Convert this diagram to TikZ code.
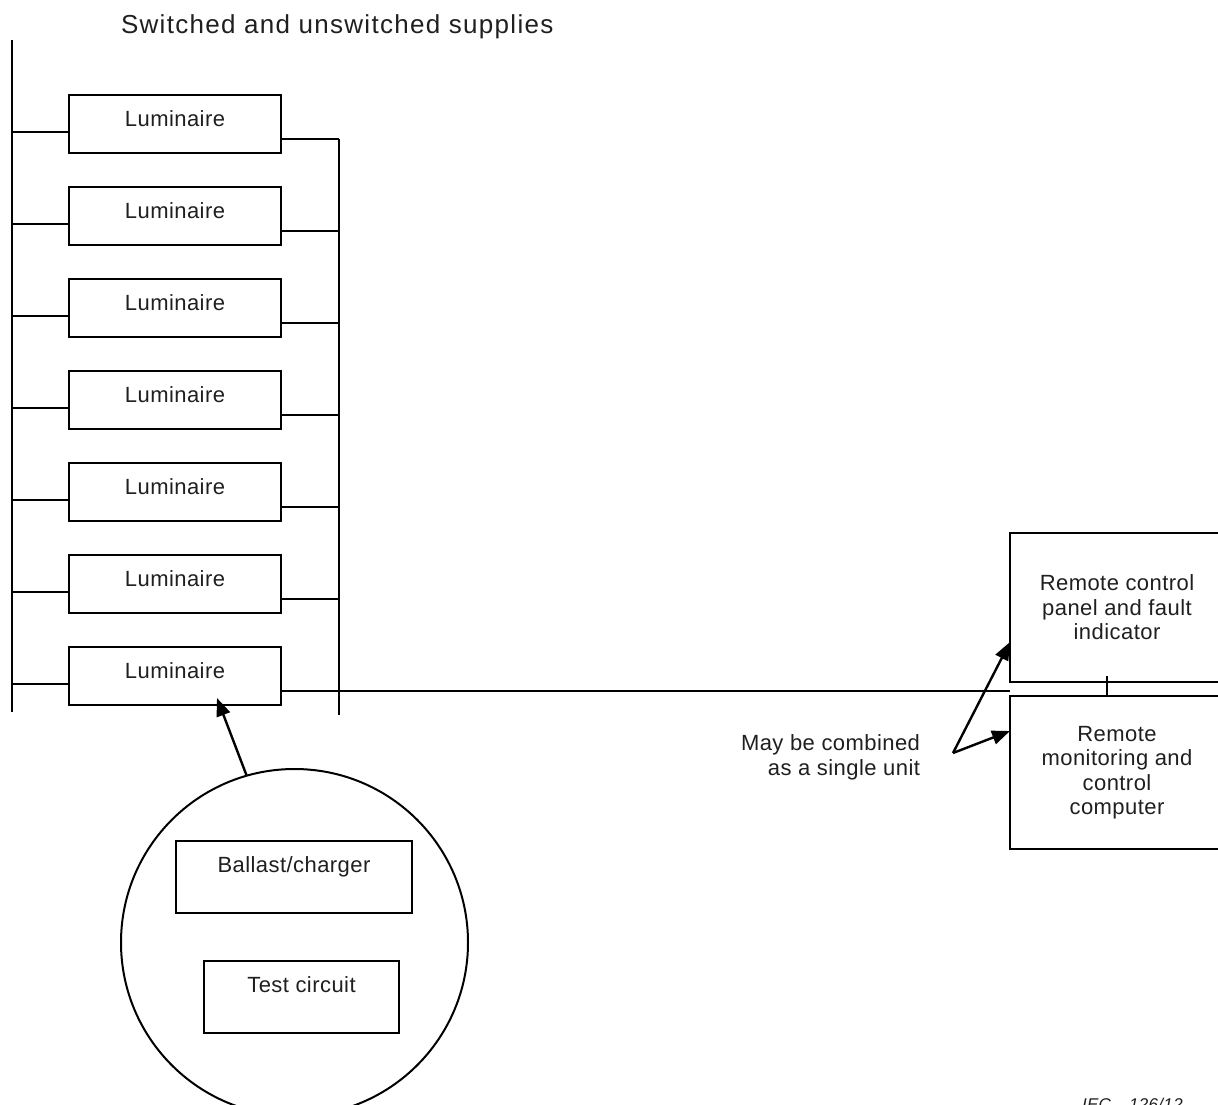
\documentclass[tikz,border=0pt]{standalone}
\usepackage{fontspec}
\setmainfont{Liberation Sans}[LetterSpace=2]
\newfontfamily\titlefont{Liberation Sans}[LetterSpace=5]
\usetikzlibrary{arrows.meta,calc}
\begin{document}
\begin{tikzpicture}[x=1pt,y=-1pt, line width=2pt,
  every node/.style={inner sep=0pt, outer sep=0pt, text=black!88},
  txt/.style={font=\fontsize{22}{24.5}\selectfont},
  lum/.style={txt, draw, anchor=north west, minimum width=212pt, minimum height=58pt, text height=11.5pt, text depth=7.5pt},
  part/.style={txt, draw, anchor=north west, minimum height=72pt, text height=10pt, text depth=20pt},
  remote/.style={txt, draw, anchor=north west, minimum width=214pt, align=center},
  arr/.style={line width=2.4pt, -{Triangle[length=18pt,width=14pt]}}
]
\useasboundingbox (0,0) rectangle (1218,1104);

\node[anchor=base west, font=\titlefont\fontsize{26}{28}\selectfont] (title) at (121,33) {Switched and unswitched supplies};

\coordinate (busLtop) at (12,40);
\coordinate (busLbot) at (12,712);
\coordinate (busRbot) at (339,715);

\foreach \i in {1,...,7} {
  \pgfmathsetmacro\yy{95+92*(\i-1)}
  \node[lum] (L\i) at (69,\yy) {Luminaire};
  \coordinate (Lin\i) at ([yshift=-8pt]L\i.west);
  \coordinate (Lout\i) at ([yshift=-15pt]L\i.east);
  \draw (Lin\i -| busLtop) -- (Lin\i);
  \draw (Lout\i) -- (Lout\i -| busRbot);
}
\draw (busLtop) -- (busLbot);
\draw (Lout1 -| busRbot) -- (busRbot);

\node[remote, minimum height=149pt] (TC) at (1010,533) {Remote control\\panel and fault\\indicator};
\node[remote, minimum height=153pt] (RM) at (1010,696) {Remote\\monitoring and\\control\\computer};
\draw ([xshift=-10pt,yshift=6pt]TC.south) -- ([xshift=-10pt]RM.north);
\coordinate (gap) at ($(TC.south west)!0.5!(RM.north west)$);
\draw (Lout7) -- (Lout7 -| gap);

\node[anchor=north east, align=right, txt] (note) at (920,735) {May be combined\\as a single unit};
\coordinate (fork) at (953,753);
\draw[arr] (fork) -- ([yshift=-34.5pt]TC.west);
\draw[arr] (fork) -- ([yshift=41.5pt]RM.west);

\node[draw, circle, minimum size=347pt] (detail) at (294.5,942.5) {};
\node[part, minimum width=236pt] (BC) at (176,841) {Ballast/charger};
\node[part, minimum width=195pt] (TCir) at (204,961) {Test circuit};
\draw[arr] (detail.106) -- ([xshift=42pt,yshift=7pt]L7.south);

\node[anchor=base west, font=\itshape\fontsize{17}{20}\selectfont] (iec) at (1082,1110) {IEC\hspace{18pt}126/12};
\end{tikzpicture}
\end{document}
